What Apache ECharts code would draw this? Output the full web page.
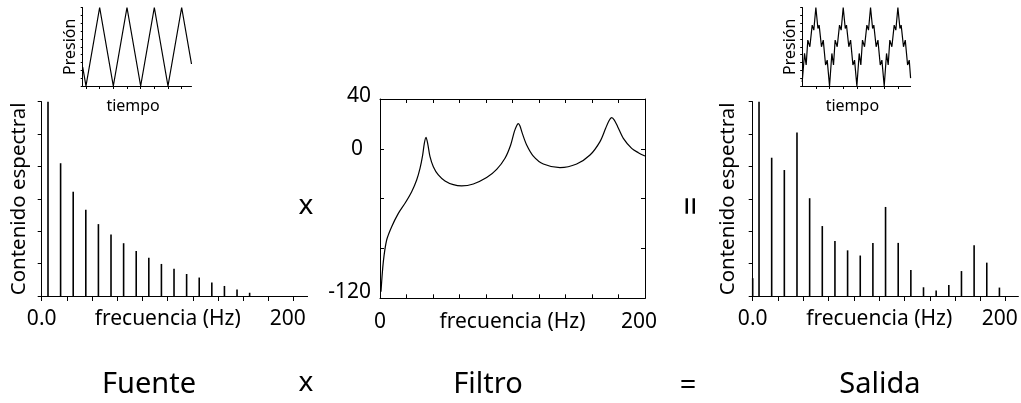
<!DOCTYPE html>
<html>
<head>
<meta charset="utf-8">
<title>Fuente x Filtro = Salida</title>
<script src="https://cdn.jsdelivr.net/npm/echarts@6/dist/echarts.min.js"></script>
<style>
  html, body { margin: 0; padding: 0; background: #fff; }
  #chart { width: 1021px; height: 403px; }
</style>
</head>
<body>
<div id="chart"></div>
<script>
// espectro de la fuente (armónicos)
const fuenteFreq = [5, 15, 25, 35, 45, 55, 65, 75, 85, 95, 105, 115, 125, 135, 145, 155, 165];
const fuenteAmp = [6.0, 4.10, 3.22, 2.66, 2.22, 1.90, 1.63, 1.39, 1.18, 0.99, 0.84, 0.68, 0.57, 0.42, 0.31, 0.20, 0.10];

// respuesta del filtro (dB)
const filtroFreq = [0.75, 2.52, 5.03, 8.81, 13.84, 18.87, 23.9, 27.67, 30.19, 32.2, 33.46, 34.72, 35.97, 37.74, 40.25,
  44.02, 49.06, 55.35, 61.63, 70.44, 80.5, 88.05, 94.34, 98.62, 101.38, 103.14, 104.4, 105.66, 107.42, 110.69,
  115.72, 123.27, 135.85, 148.43, 158.49, 166.04, 170.31, 172.83, 174.84, 176.85, 179.37, 183.65, 189.94, 194.97, 200];
const filtroDb = [-114.7, -90.6, -73.2, -62.5, -51.8, -43.7, -34.4, -25.0, -15.7, -5.0, 4.4, 9.2, 4.4, -6.3, -14.3,
  -21.0, -25.8, -28.8, -29.8, -28.2, -23.1, -16.5, -7.6, 3.1, 13.8, 18.6, 20.2, 18.3, 12.4, 3.1,
  -5.8, -12.2, -15.1, -12.2, -5.0, 5.8, 16.5, 22.6, 25.0, 23.1, 17.8, 8.4, 0.4, -3.1, -5.8];

// espectro de la salida
const salidaFreq = [0, 5, 15, 25, 35, 45, 55, 65, 75, 85, 95, 105, 115, 125, 135, 145, 155, 165, 175, 185, 195];
const salidaAmp = [0.55, 6.0, 4.27, 3.89, 5.05, 3.02, 2.16, 1.70, 1.41, 1.25, 1.64, 2.75, 1.64, 0.80, 0.27, 0.17, 0.34, 0.77, 1.57, 1.03, 0.26];

// ondas de presión (recuadros pequeños)
const fuenteOndaT = [-0.24, 0, 1, 2, 3, 4, 5, 6, 7, 7.72];
const fuenteOndaP = [2.4, 0, 10, 0, 10, 0, 10, 0, 10, 2.8];

const salidaOndaT = [-2, -1.83, -1.71, -1.59, -1.44, -1.27, -1.15, -1, -0.85, -0.76, -0.59, -0.46, -0.29, -0.17,
  0, 0.17, 0.29, 0.41, 0.56, 0.73, 0.85, 1, 1.15, 1.24, 1.41, 1.54, 1.71, 1.83,
  2, 2.17, 2.29, 2.41, 2.56, 2.73, 2.85, 3, 3.15, 3.24, 3.41, 3.54, 3.71, 3.83,
  4, 4.17, 4.29, 4.41, 4.56, 4.73, 4.85, 5, 5.15, 5.24, 5.41, 5.54, 5.71, 5.83, 5.93];
const salidaOndaP = [0.5, 4.15, 2.67, 5.85, 5.0, 7.75, 7.12, 10, 7.33, 7.75, 5.0, 5.85, 2.67, 3.3,
  0, 4.15, 2.67, 5.85, 5.0, 7.75, 7.12, 10, 7.33, 7.75, 5.0, 5.85, 2.67, 3.3,
  0, 4.15, 2.67, 5.85, 5.0, 7.75, 7.12, 10, 7.33, 7.75, 5.0, 5.85, 2.67, 3.3,
  0, 4.15, 2.67, 5.85, 5.0, 7.75, 7.12, 10, 7.33, 7.75, 5.0, 5.85, 2.67, 3.3, 1.0];

// marcas de los ejes
const freqTicks = [0, 20, 40, 60, 80, 100, 120, 140, 160, 180, 200];
const freqLabels = [0, 100, 200];
const dbLabels = [-120, 0, 40];
const contenidoTicks = [0, 1, 2, 3, 4, 5, 6];
const tiempoTicksFuente = [0, 1, 2, 3, 4, 5, 6, 7];
const tiempoTicksSalida = [-1, 0, 1, 2, 3, 4, 5];

const zip = (a, b) => a.map((v, i) => [v, b[i]]);

const FONT = '"Noto Sans", "Open Sans", sans-serif';
const INK = '#000';
const line = { show: true, onZero: false, lineStyle: { color: '#000', width: 1 } };

function freqLabel(zero) {
  return {
    customValues: freqLabels,
    margin: 13,
    fontSize: 21,
    color: INK,
    formatter: v => v === 0 ? zero : v === 100 ? 'frecuencia (Hz)' : '{r|200}',
    rich: { r: { fontSize: 21, color: INK, padding: [0, 12, 0, 0] } }
  };
}

function spectrumAxes(gridIndex, max) {
  return {
    x: {
      type: 'value', gridIndex, min: 0, max,
      axisLine: line,
      axisTick: { customValues: freqTicks, length: 5, lineStyle: { color: '#000' } },
      axisLabel: freqLabel('0.0'),
      splitLine: { show: false }
    },
    y: {
      type: 'value', gridIndex, min: 0, max: 6,
      axisLine: line,
      axisTick: { customValues: contenidoTicks, length: 4, lineStyle: { color: '#000' } },
      axisLabel: { show: false },
      splitLine: { show: false },
      name: 'Contenido espectral', nameLocation: 'middle', nameRotate: 90,
      nameGap: 12, nameTextStyle: { fontSize: 20.5, color: INK }
    }
  };
}

function insetAxes(gridIndex, min, max, ticks) {
  return {
    x: {
      type: 'value', gridIndex, min, max,
      axisLine: line,
      axisTick: { customValues: ticks, length: 3, lineStyle: { color: '#000' } },
      axisLabel: { show: false },
      splitLine: { show: false },
      name: 'tiempo', nameLocation: 'middle', nameGap: 12,
      nameTextStyle: { fontSize: 16, color: INK, padding: [0, 8, 0, 0] }
    },
    y: {
      type: 'value', gridIndex, min: 0, max: 10, interval: 1,
      axisLine: line,
      axisTick: { show: true, length: 2, lineStyle: { color: '#000' } },
      axisLabel: { show: false },
      splitLine: { show: false },
      name: 'Presión', nameLocation: 'middle', nameRotate: 90, nameGap: 4,
      nameTextStyle: { fontSize: 16, color: INK }
    }
  };
}

const fuente = spectrumAxes(0, 211);
const salida = spectrumAxes(2, 210);
salida.y.nameGap = 14;
const insetF = insetAxes(3, -0.24, 7.72, tiempoTicksFuente);
const insetS = insetAxes(4, -2, 5.93, tiempoTicksSalida);

const filtroX = {
  type: 'value', gridIndex: 1, min: 0, max: 200, interval: 20,
  axisLine: line,
  axisTick: { inside: true, length: 4, lineStyle: { color: '#000' } },
  axisLabel: freqLabel('0'),
  splitLine: { show: false }
};
const filtroXTop = {
  type: 'value', gridIndex: 1, min: 0, max: 200, interval: 20, position: 'top',
  axisLine: line,
  axisTick: { inside: true, length: 4, lineStyle: { color: '#000' } },
  axisLabel: { show: false },
  splitLine: { show: false }
};
const filtroY = {
  type: 'value', gridIndex: 1, min: -120, max: 40, interval: 40,
  axisLine: line,
  axisTick: { inside: true, length: 4, lineStyle: { color: '#000' } },
  axisLabel: {
    customValues: dbLabels,
    margin: 9,
    fontSize: 21,
    color: INK,
    formatter: v => v === 0 ? '{z|0}' : v === 40 ? '{t|40}' : '{b|-120}',
    rich: {
      z: { fontSize: 21, color: INK, padding: [0, 8, 0, 0] },
      t: { fontSize: 21, color: INK, padding: [0, 0, 6, 0] },
      b: { fontSize: 21, color: INK, padding: [0, 0, 12, 0] }
    }
  },
  splitLine: { show: false }
};
const filtroYRight = {
  type: 'value', gridIndex: 1, min: -120, max: 40, interval: 40, position: 'right',
  axisLine: line,
  axisTick: { inside: true, length: 4, lineStyle: { color: '#000' } },
  axisLabel: { show: false },
  splitLine: { show: false }
};

function bigText(text, x, y, size, rotation) {
  return {
    type: 'text', x, y, rotation: rotation || 0,
    style: { text, fontSize: size, fontFamily: FONT, fill: INK, align: 'center', verticalAlign: 'middle' }
  };
}

const chart = echarts.init(document.getElementById('chart'));
chart.setOption({
  animation: false,
  backgroundColor: '#fff',
  textStyle: { fontFamily: FONT },
  grid: [
    { left: 41.7, top: 101.7, width: 265.9, height: 194.3 },
    { left: 380, top: 99, width: 265, height: 199.3 },
    { left: 752.7, top: 101.7, width: 265.7, height: 194.3 },
    { left: 82.7, top: 7.5, width: 108.8, height: 78.5 },
    { left: 802.2, top: 7.5, width: 108.4, height: 78.5 }
  ],
  xAxis: [fuente.x, filtroX, filtroXTop, salida.x, insetF.x, insetS.x],
  yAxis: [fuente.y, filtroY, filtroYRight, salida.y, insetF.y, insetS.y],
  series: [
    {
      name: 'Fuente', type: 'bar', xAxisIndex: 0, yAxisIndex: 0,
      data: zip(fuenteFreq, fuenteAmp), barWidth: 1.6,
      itemStyle: { color: '#000' }
    },
    {
      name: 'Filtro', type: 'line', xAxisIndex: 1, yAxisIndex: 1,
      data: zip(filtroFreq, filtroDb), showSymbol: false, smooth: 0.3,
      lineStyle: { color: '#000', width: 1.2 }
    },
    {
      name: 'Salida', type: 'bar', xAxisIndex: 3, yAxisIndex: 3,
      data: zip(salidaFreq, salidaAmp), barWidth: 1.6,
      itemStyle: { color: '#000' }
    },
    {
      name: 'Onda fuente', type: 'line', xAxisIndex: 4, yAxisIndex: 4,
      data: zip(fuenteOndaT, fuenteOndaP), showSymbol: false,
      lineStyle: { color: '#000', width: 1.2 }
    },
    {
      name: 'Onda salida', type: 'line', xAxisIndex: 5, yAxisIndex: 5,
      data: zip(salidaOndaT, salidaOndaP), showSymbol: false,
      lineStyle: { color: '#000', width: 1.2 }
    }
  ],
  graphic: [
    bigText('x', 306, 206, 28),
    bigText('=', 693, 206, 34, Math.PI / 2),
    bigText('Fuente', 149, 385, 29),
    bigText('x', 306, 383, 28),
    bigText('Filtro', 488, 385, 29),
    bigText('=', 688, 386, 29),
    bigText('Salida', 880, 385, 29)
  ]
});
</script>
</body>
</html>
